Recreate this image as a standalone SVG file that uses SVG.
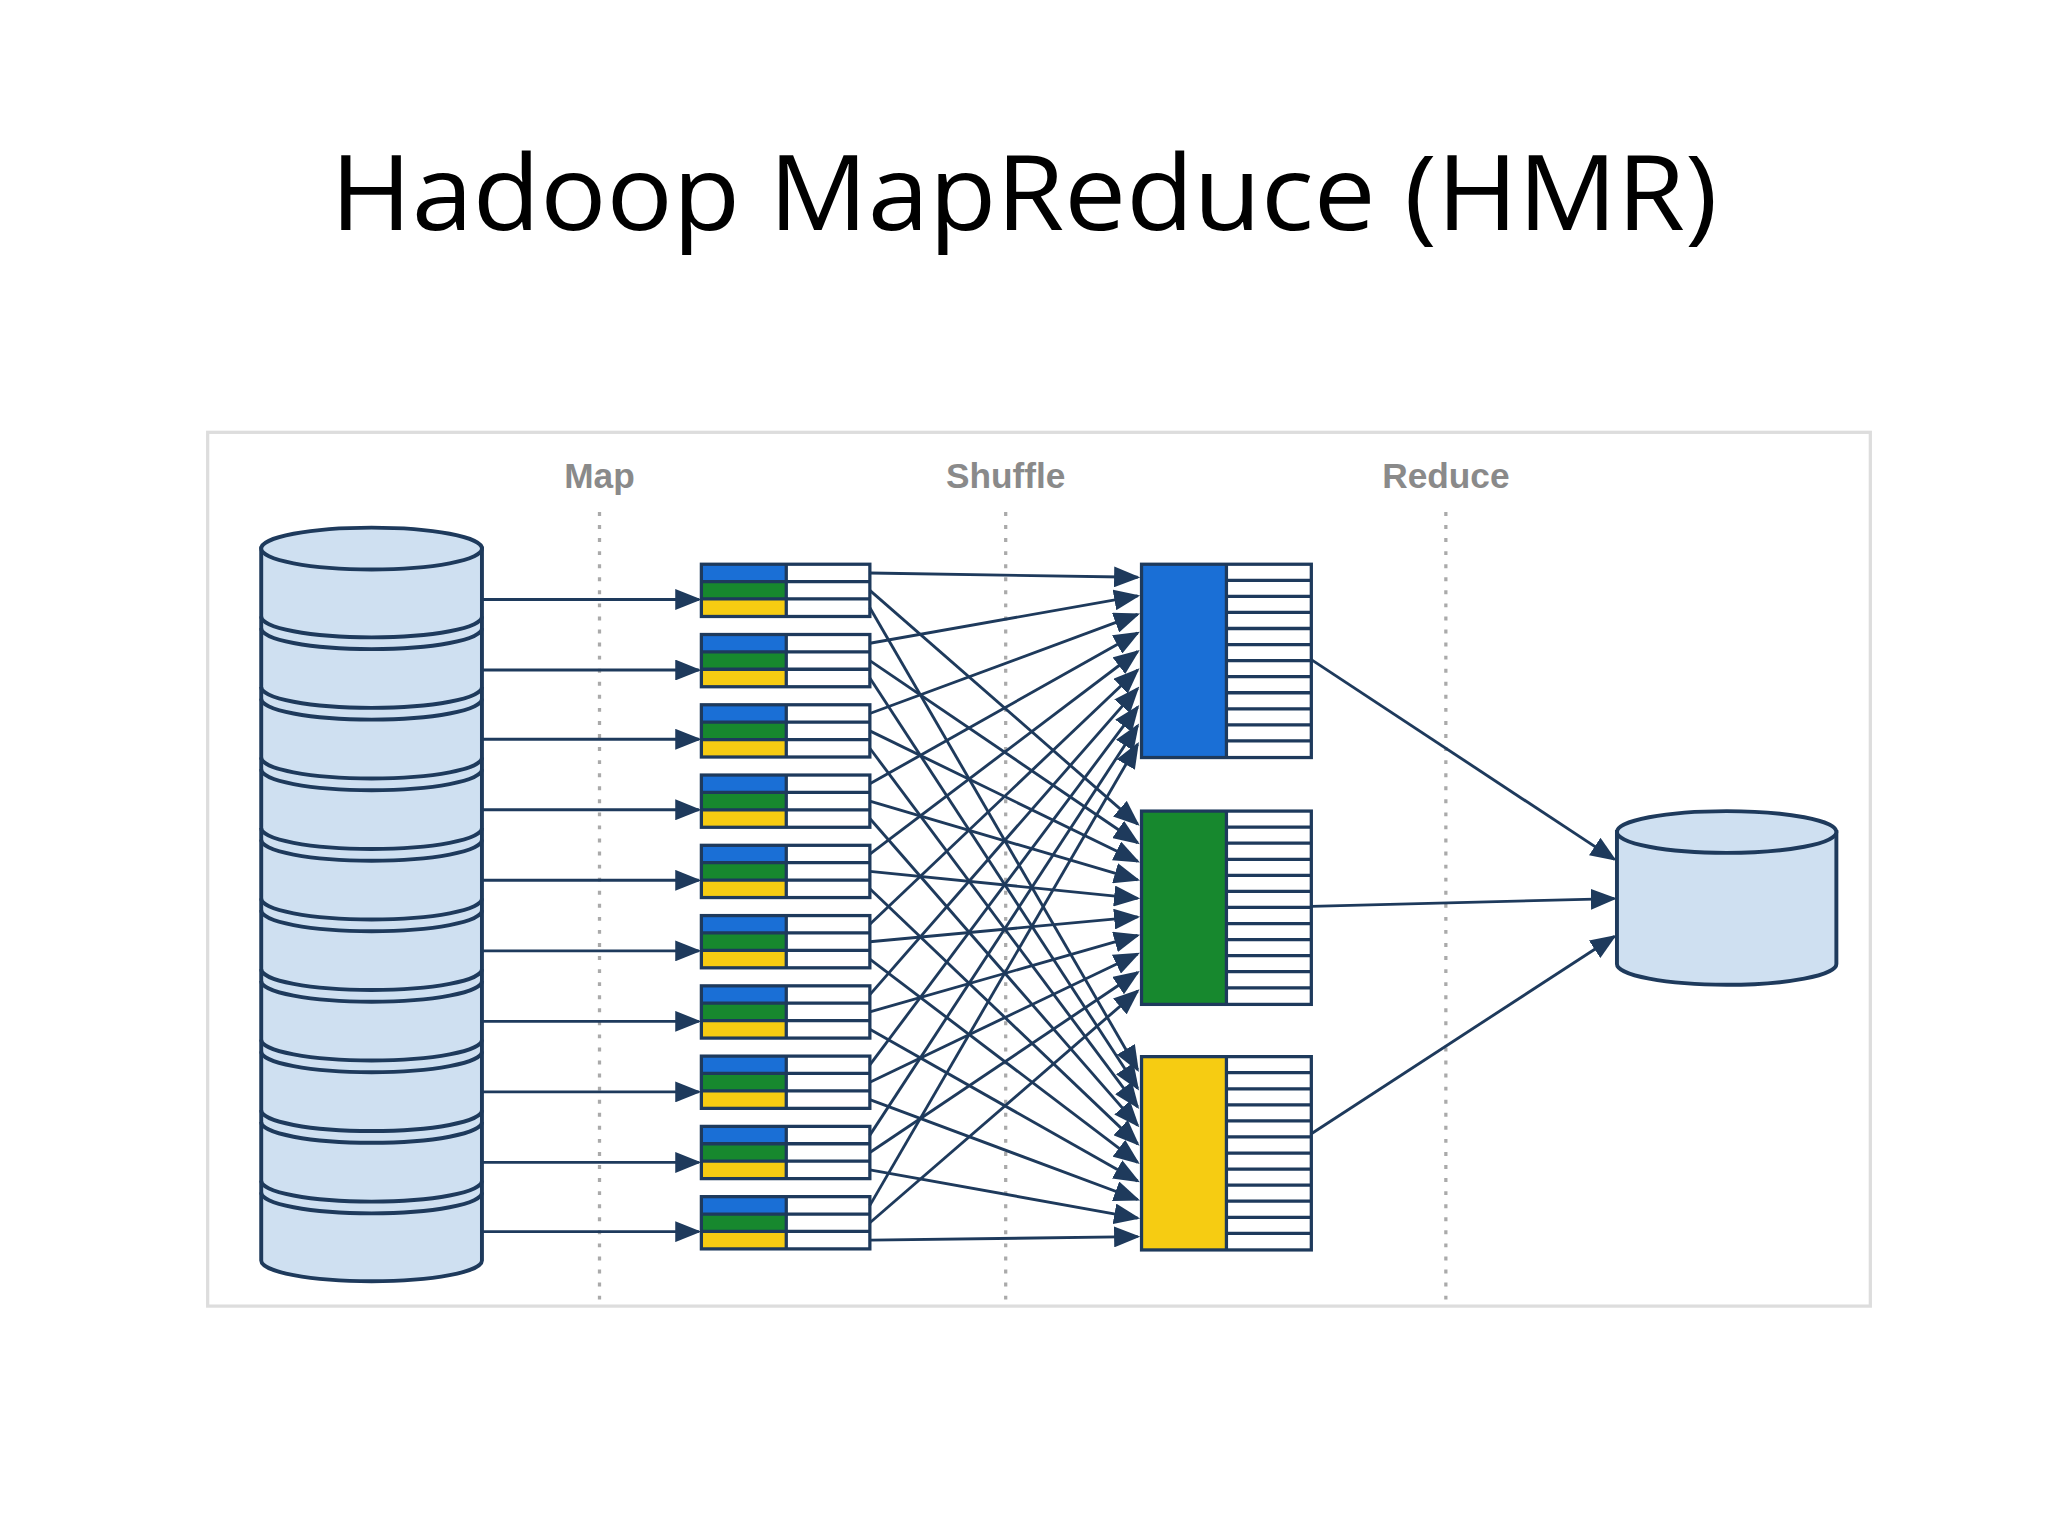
<svg xmlns="http://www.w3.org/2000/svg" width="2048" height="1536" viewBox="0 0 2048 1536">
<style>
.t{font-family:"Open Sans","Liberation Sans",sans-serif;font-size:80px;fill:#000}
.lb{font-family:"Liberation Sans",Arial,sans-serif;font-size:27px;font-weight:bold;fill:#8a8a8a}
.dot{stroke:#aaa;stroke-width:2.5;stroke-dasharray:3 7}
.cyl{fill:#cfe0f1;stroke:#1e3a5c;stroke-width:3}
.arc{fill:none;stroke:#1e3a5c;stroke-width:3}
.ln{stroke:#1e3a5c;stroke-width:2.2;fill:none;marker-end:url(#ah)}
.bl{fill:#1a6fd6}.gr{fill:#17882e}.ye{fill:#f6cc12}
</style>
<defs>
<marker id="ah" markerUnits="userSpaceOnUse" markerWidth="20" markerHeight="16" refX="18" refY="8" orient="auto"><path d="M0,0 L20,8 L0,16 Z" fill="#1e3a5c"/></marker>
<g id="mb">
<rect x="0" y="0" width="65" height="13.3" class="bl"/><rect x="0" y="13.3" width="65" height="13.3" class="gr"/><rect x="0" y="26.6" width="65" height="13.4" class="ye"/>
<rect x="0" y="0" width="129" height="40" fill="none" stroke="#1e3a5c" stroke-width="2.5"/>
<path d="M65,0V40M0,13.3H129M0,26.6H129" stroke="#1e3a5c" stroke-width="2.5"/>
</g>
<g id="rl"><path d="M65,12.3H130M65,24.6H130M65,36.9H130M65,49.2H130M65,61.5H130M65,73.8H130M65,86.1H130M65,98.4H130M65,110.7H130M65,123H130M65,135.3H130" stroke="#1e3a5c" stroke-width="2.5"/><rect x="0" y="0" width="130" height="148" fill="none" stroke="#1e3a5c" stroke-width="2.5"/><path d="M65,0V148" stroke="#1e3a5c" stroke-width="2.5"/></g>
</defs>
<rect width="2048" height="1536" fill="#fff"/>
<g transform="scale(1.3061)">
<text class="t" x="784" y="176" text-anchor="middle" textLength="1062" lengthAdjust="spacingAndGlyphs">Hadoop MapReduce (HMR)</text>
<rect x="159" y="331" width="1273" height="669" fill="#fff" stroke="#ddd" stroke-width="2.5"/>
<g id="labels">
<text class="lb" x="459" y="374" text-anchor="middle">Map</text>
<text class="lb" x="770" y="374" text-anchor="middle">Shuffle</text>
<text class="lb" x="1107" y="374" text-anchor="middle">Reduce</text>
<path class="dot" d="M459,392V1000M770,392V1000M1107,392V1000"/>
</g>
<g id="input-store">
<path class="cyl" d="M200,420 V965 A84.5,16 0 0 0 369,965 V420 Z"/>
<ellipse class="cyl" cx="284.5" cy="420" rx="84.5" ry="16"/>
<path class="arc" d="M200,472A84.5,16 0 0 0 369,472M200,481A84.5,16 0 0 0 369,481M200,526A84.5,16 0 0 0 369,526M200,535A84.5,16 0 0 0 369,535M200,580A84.5,16 0 0 0 369,580M200,589A84.5,16 0 0 0 369,589M200,634A84.5,16 0 0 0 369,634M200,643A84.5,16 0 0 0 369,643M200,688A84.5,16 0 0 0 369,688M200,697A84.5,16 0 0 0 369,697M200,742A84.5,16 0 0 0 369,742M200,751A84.5,16 0 0 0 369,751M200,796A84.5,16 0 0 0 369,796M200,805A84.5,16 0 0 0 369,805M200,850A84.5,16 0 0 0 369,850M200,859A84.5,16 0 0 0 369,859M200,904A84.5,16 0 0 0 369,904M200,913A84.5,16 0 0 0 369,913"/>
</g>
<g id="map-tasks">
<use href="#mb" x="537" y="432"/><use href="#mb" x="537" y="485.8"/><use href="#mb" x="537" y="539.6"/><use href="#mb" x="537" y="593.4"/><use href="#mb" x="537" y="647.2"/><use href="#mb" x="537" y="701"/><use href="#mb" x="537" y="754.8"/><use href="#mb" x="537" y="808.6"/><use href="#mb" x="537" y="862.4"/><use href="#mb" x="537" y="916.2"/>
</g>
<g id="reducer-blue"><rect x="874" y="432" width="65" height="148" class="bl"/><use href="#rl" x="874" y="432"/></g>
<g id="reducer-green"><rect x="874" y="621" width="65" height="148" class="gr"/><use href="#rl" x="874" y="621"/></g>
<g id="reducer-yellow"><rect x="874" y="809" width="65" height="148" class="ye"/><use href="#rl" x="874" y="809"/></g>
<g id="output-store">
<path class="cyl" d="M1238,637 V738 A84,16 0 0 0 1406,738 V637 Z"/>
<ellipse class="cyl" cx="1322" cy="637" rx="84" ry="16"/>
</g>
<g id="connectors">
<path class="ln" d="M369,459H535"/><path class="ln" d="M369,513H535"/><path class="ln" d="M369,566H535"/><path class="ln" d="M369,620H535"/><path class="ln" d="M369,674H535"/><path class="ln" d="M369,728H535"/><path class="ln" d="M369,782H535"/><path class="ln" d="M369,836H535"/><path class="ln" d="M369,890H535"/><path class="ln" d="M369,943H535"/>
<path class="ln" d="M666,438.7L871,442"/><path class="ln" d="M666,452L871,631"/><path class="ln" d="M666,465.3L871,819"/>
<path class="ln" d="M666,492.5L871,456.2"/><path class="ln" d="M666,505.8L871,645.2"/><path class="ln" d="M666,519.1L871,833.2"/>
<path class="ln" d="M666,546.3L871,470.4"/><path class="ln" d="M666,559.6L871,659.4"/><path class="ln" d="M666,572.9L871,847.4"/>
<path class="ln" d="M666,600.1L871,484.6"/><path class="ln" d="M666,613.4L871,673.6"/><path class="ln" d="M666,626.7L871,861.6"/>
<path class="ln" d="M666,653.9L871,498.8"/><path class="ln" d="M666,667.2L871,687.8"/><path class="ln" d="M666,680.5L871,875.8"/>
<path class="ln" d="M666,707.7L871,513"/><path class="ln" d="M666,721L871,702"/><path class="ln" d="M666,734.3L871,890"/>
<path class="ln" d="M666,761.5L871,527.2"/><path class="ln" d="M666,774.8L871,716.2"/><path class="ln" d="M666,788.1L871,904.2"/>
<path class="ln" d="M666,815.3L871,541.4"/><path class="ln" d="M666,828.6L871,730.4"/><path class="ln" d="M666,841.9L871,918.4"/>
<path class="ln" d="M666,869.1L871,555.6"/><path class="ln" d="M666,882.4L871,744.6"/><path class="ln" d="M666,895.7L871,932.6"/>
<path class="ln" d="M666,922.9L871,569.8"/><path class="ln" d="M666,936.2L871,758.8"/><path class="ln" d="M666,949.5L871,946.8"/>
<path class="ln" d="M1004,505L1236,658"/><path class="ln" d="M1004,694L1236,688"/><path class="ln" d="M1004,868L1236,717"/>
</g>
</g>
</svg>
